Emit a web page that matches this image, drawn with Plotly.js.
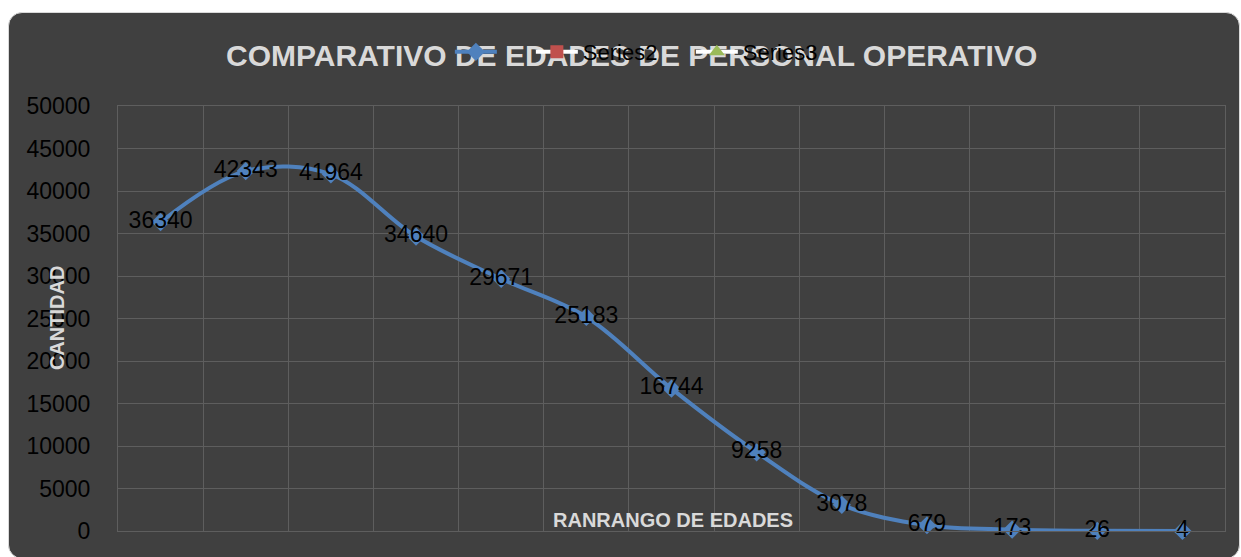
<!DOCTYPE html>
<html>
<head>
<meta charset="utf-8">
<script src="https://cdn.plot.ly/plotly-3.0.1.min.js"></script>
<style>
  html, body { margin: 0; padding: 0; background: #ffffff; width: 1241px; height: 557px; overflow: hidden; }
  #card { position: absolute; left: 8px; top: 12px; width: 1230px; height: 545px;
          background: #404040; border: 1px solid #d9d9d9; border-radius: 14px; }
  #chart { position: absolute; left: 0; top: 0; width: 1241px; height: 557px; }
</style>
</head>
<body>
<div id="card"></div>
<div id="chart"></div>
<script>
// Data
const categories = ["1","2","3","4","5","6","7","8","9","10","11","12","13"];
const series1 = [36340, 42343, 41964, 34640, 29671, 25183, 16744, 9258, 3078, 679, 173, 26, 4];
const series2 = [null];   // shown only in the legend, no visible points
const series3 = [null];   // shown only in the legend, no visible points
const yTickVals = [0, 5000, 10000, 15000, 20000, 25000, 30000, 35000, 40000, 45000, 50000];
const chartTitle = "COMPARATIVO DE EDADES DE PERSONAL OPERATIVO";
const xTitle = "RANRANGO DE EDADES";
const yTitle = "CANTIDAD";

const FONT = "Liberation Sans, Arial, sans-serif";
const GRID = "#5e5e5e";

const traces = [
  {
    x: categories, y: series1, name: " ",
    type: "scatter", mode: "lines+markers+text",
    line: { color: "#4f81bd", width: 4, shape: "spline", smoothing: 1 },
    marker: { symbol: "diamond", size: 14, color: "#4f81bd" },
    text: series1.map(String), textposition: "middle center",
    textfont: { family: FONT, size: 23, color: "#000000" },
    cliponaxis: false, legendwidth: 24
  },
  {
    x: categories.slice(0, series2.length), y: series2, name: "Series2",
    type: "scatter", mode: "lines+markers",
    line: { color: "#ffffff", width: 4 },
    marker: { symbol: "square", size: 13, color: "#c0504d" },
    legendwidth: 103
  },
  {
    x: categories.slice(0, series3.length), y: series3, name: "Series3",
    type: "scatter", mode: "lines+markers",
    line: { color: "#ffffff", width: 4 },
    marker: { symbol: "triangle-up", size: 14, color: "#9bbb59" },
    legendwidth: 80
  }
];

const layout = {
  width: 1241, height: 557,
  paper_bgcolor: "rgba(0,0,0,0)", plot_bgcolor: "rgba(0,0,0,0)",
  margin: { l: 118, r: 16, t: 106, b: 26, pad: 0 },
  font: { family: FONT, color: "#000000" },
  title: {
    text: chartTitle,
    font: { family: FONT, size: 30, color: "#d9d9d9", weight: "bold" },
    x: 0.509, xref: "container", xanchor: "center",
    y: 0.8995, yref: "container", yanchor: "middle"
  },
  showlegend: true,
  legend: {
    orientation: "h", xref: "container", yref: "container",
    x: 0.3625, xanchor: "left", y: 0.9066, yanchor: "middle",
    bgcolor: "rgba(0,0,0,0)", itemwidth: 42,
    font: { family: FONT, size: 22, color: "#000000" },
    itemclick: false
  },
  xaxis: {
    type: "category", categoryorder: "array", categoryarray: categories,
    range: [-0.5, 12.5], tickson: "boundaries",
    showticklabels: false, ticks: "",
    showgrid: true, gridcolor: GRID, gridwidth: 1,
    showline: true, linecolor: GRID, linewidth: 1, mirror: true,
    zeroline: false, fixedrange: true
  },
  yaxis: {
    range: [0, 50000], tickvals: yTickVals, ticktext: yTickVals.map(String),
    tickfont: { family: FONT, size: 23, color: "#000000" },
    ticks: "", ticklabelstandoff: 22,
    showgrid: true, gridcolor: GRID, gridwidth: 1,
    showline: true, linecolor: GRID, linewidth: 1, mirror: true,
    zeroline: false, fixedrange: true
  },
  annotations: [
    {
      text: xTitle, xref: "paper", yref: "paper", x: 0.5014, y: 0.026,
      xanchor: "center", yanchor: "middle", showarrow: false,
      font: { family: FONT, size: 20, color: "#d9d9d9", weight: "bold" }
    },
    {
      text: yTitle, xref: "paper", yref: "paper", x: -0.0551, y: 0.501,
      xanchor: "center", yanchor: "middle", showarrow: false, textangle: -90,
      font: { family: FONT, size: 20, color: "#d9d9d9", weight: "bold" }
    }
  ]
};

Plotly.newPlot("chart", traces, layout, { displayModeBar: false, staticPlot: true }).then(function (gd) {
  // In the reference the legend sits on top of the title text
  const leg = gd.querySelector("g.legend");
  if (leg && leg.parentNode) leg.parentNode.appendChild(leg);
});
</script>
</body>
</html>
